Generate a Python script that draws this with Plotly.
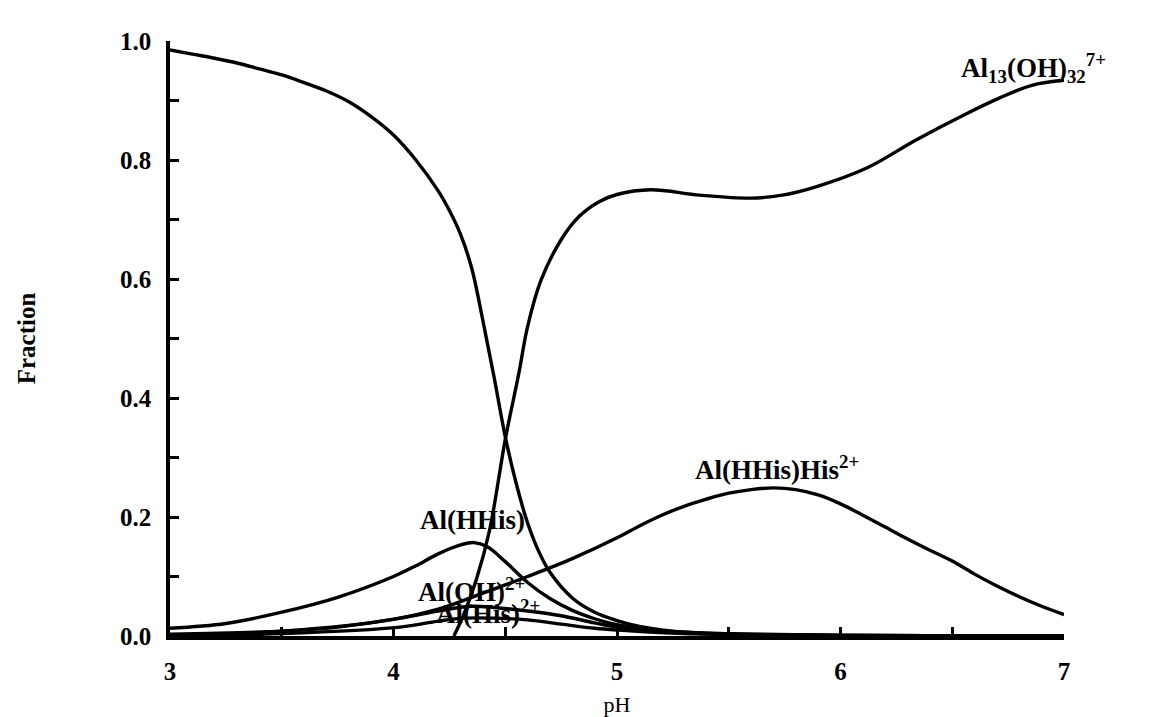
import plotly.graph_objects as go

# Speciation of Al(III) with histidine vs pH (fraction of total Al)
ph_al = [3.0, 3.1, 3.2, 3.3, 3.4, 3.5, 3.6, 3.7, 3.8, 3.9, 4.0, 4.1, 4.2, 4.25, 4.3, 4.35,
         4.4, 4.45, 4.5, 4.55, 4.6, 4.65, 4.7, 4.8, 4.9, 5.0, 5.1, 5.25, 5.5, 6.0, 7.0]
fr_al = [0.985, 0.978, 0.971, 0.963, 0.953, 0.943, 0.93, 0.916, 0.898, 0.873, 0.842, 0.8,
         0.748, 0.715, 0.675, 0.618, 0.53, 0.435, 0.335, 0.255, 0.19, 0.142, 0.107, 0.064,
         0.04, 0.026, 0.016, 0.008, 0.003, 0.001, 0.0]

ph_al13 = [4.27, 4.31, 4.37, 4.43, 4.5, 4.56, 4.6, 4.66, 4.75, 4.83, 4.92, 5.0, 5.15,
           5.37, 5.6, 5.74, 5.89, 6.12, 6.34, 6.57, 6.71, 6.86, 7.0]
fr_al13 = [0.0, 0.032, 0.094, 0.178, 0.33, 0.44, 0.52, 0.598, 0.666, 0.705, 0.73, 0.742, 0.75,
           0.741, 0.736, 0.741, 0.755, 0.787, 0.834, 0.879, 0.904, 0.926, 0.934]

ph_hhis = [3.0, 3.25, 3.5, 3.75, 4.0, 4.1, 4.2, 4.3, 4.36, 4.42, 4.5, 4.6, 4.7, 4.8,
           4.9, 5.0, 5.2, 5.5, 6.0, 7.0]
fr_hhis = [0.013, 0.021, 0.04, 0.065, 0.1, 0.118, 0.138, 0.153, 0.157, 0.15, 0.125, 0.09, 0.063,
           0.043, 0.029, 0.019, 0.008, 0.003, 0.001, 0.0]

ph_oh = [3.0, 3.5, 3.75, 4.03, 4.2, 4.35, 4.45, 4.6, 4.75, 4.9, 5.0, 5.2, 5.5, 6.0, 7.0]
fr_oh = [0.003, 0.008, 0.015, 0.03, 0.042, 0.05, 0.048, 0.042, 0.034, 0.022, 0.015, 0.008, 0.004, 0.001, 0.0]

ph_his = [3.0, 3.5, 4.03, 4.2, 4.32, 4.45, 4.6, 4.75, 4.9, 5.0, 5.3, 6.0, 7.0]
fr_his = [0.0, 0.004, 0.015, 0.025, 0.03, 0.03, 0.027, 0.02, 0.013, 0.01, 0.004, 0.001, 0.0]

ph_hhishis = [3.0, 3.5, 4.0, 4.2, 4.4, 4.6, 4.8, 5.0, 5.1, 5.2, 5.3, 5.4, 5.5, 5.6, 5.7,
              5.8, 5.9, 6.0, 6.1, 6.2, 6.3, 6.4, 6.5, 6.6, 6.7, 6.8, 6.9, 7.0]
fr_hhishis = [0.0, 0.008, 0.028, 0.045, 0.072, 0.1, 0.13, 0.165, 0.185, 0.203, 0.218, 0.23,
              0.24, 0.246, 0.249, 0.246, 0.237, 0.222, 0.203, 0.183, 0.163, 0.144, 0.126,
              0.104, 0.084, 0.066, 0.05, 0.036]

species = [
    ("Al3+", ph_al, fr_al),
    ("Al13(OH)32 7+", ph_al13, fr_al13),
    ("Al(HHis)", ph_hhis, fr_hhis),
    ("Al(OH)2+", ph_oh, fr_oh),
    ("Al(His)2+", ph_his, fr_his),
    ("Al(HHis)His2+", ph_hhishis, fr_hhishis),
]

# Curve labels: (text, pH of left edge, fraction of text centre)
labels = [
    ("Al<sup>3+</sup>", 3.07, 1.015),
    ("Al<sub>13</sub>(OH)<sub>32</sub><sup>7+</sup>", 6.53, 0.955),
    ("Al(HHis)His<sup>2+</sup>", 5.34, 0.283),
    ("Al(HHis)", 4.11, 0.195),
    ("Al(OH)<sup>2+</sup>", 4.1, 0.078),
    ("Al(His)<sup>2+</sup>", 4.18, 0.04),
]

SERIF = "Liberation Serif"

fig = go.Figure()
for name, x, y in species:
    fig.add_trace(go.Scatter(
        x=x, y=y, mode="lines", name=name,
        line=dict(color="black", width=3.4, shape="spline", smoothing=1.0),
        showlegend=False, hoverinfo="skip",
    ))

for text, x, y in labels:
    fig.add_annotation(
        x=x, y=y, text="<b>" + text + "</b>", showarrow=False,
        xanchor="left", yanchor="middle",
        font=dict(family=SERIF, size=27, color="black"),
    )

tick_font = dict(family=SERIF, size=25, color="black", weight="bold")

fig.update_layout(
    width=1171, height=717,
    margin=dict(l=170, r=107, t=41, b=81),
    paper_bgcolor="white", plot_bgcolor="white",
    xaxis=dict(
        range=[3, 7], dtick=1, tick0=3, automargin=False,
        showgrid=False, zeroline=False,
        showline=True, linecolor="black", linewidth=3.5,
        ticks="inside", ticklen=9, tickwidth=2.5, tickcolor="black",
        minor=dict(dtick=0.5, ticks="inside", ticklen=9, tickwidth=2.5, tickcolor="black"),
        tickfont=tick_font,
        ticklabelstandoff=10,
        title=dict(text="pH", font=dict(family=SERIF, size=22, color="black"), standoff=22),
    ),
    yaxis=dict(
        range=[0, 1], dtick=0.2, tick0=0, tickformat=".1f", automargin=False,
        showgrid=False, zeroline=False,
        showline=True, linecolor="black", linewidth=3.5,
        ticks="inside", ticklen=9, tickwidth=2.5, tickcolor="black",
        minor=dict(dtick=0.1, ticks="inside", ticklen=9, tickwidth=2.5, tickcolor="black"),
        tickfont=tick_font,
        ticklabelstandoff=10,
        title=dict(text="<b>Fraction</b>", font=dict(family=SERIF, size=25, color="black"), standoff=78),
    ),
)

fig.write_html("out.html")
